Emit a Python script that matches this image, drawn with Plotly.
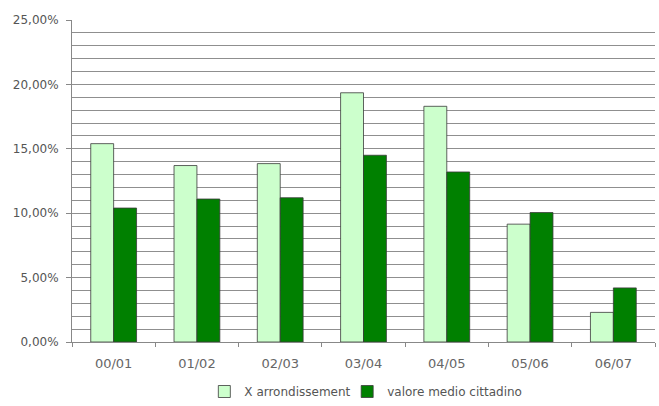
import plotly.graph_objects as go

# Anni scolastici
categories = ["00/01", "01/02", "02/03", "03/04", "04/05", "05/06", "06/07"]

# Percentuali per serie
x_arrondissement = [15.4, 13.7, 13.85, 19.35, 18.3, 9.15, 2.3]
valore_medio = [10.4, 11.1, 11.2, 14.5, 13.2, 10.05, 4.2]

series_names = ["X arrondissement", "valore medio cittadino"]
series_colors = ["#ccffcc", "#008000"]

y_ticks = [0, 5, 10, 15, 20, 25]
y_tick_labels = ["0,00%", "5,00%", "10,00%", "15,00%", "20,00%", "25,00%"]

font_family = "DejaVu Sans, Arial, sans-serif"

# each series gets its own legend box so the two entries can sit close together
legend_ids = ["legend", "legend2"]
legend_x = [0.227, 0.472]

fig = go.Figure()
for name, values, color, lid in zip(series_names, [x_arrondissement, valore_medio],
                                    series_colors, legend_ids):
    fig.add_trace(go.Bar(
        x=categories,
        y=values,
        name=name,
        legend=lid,
        marker=dict(color=color, line=dict(color="#3a3a3a", width=0.8)),
    ))

legend_style = dict(
    orientation="h",
    xanchor="left",
    yref="container",
    y=0.0,
    yanchor="bottom",
    font=dict(family=font_family, size=12, color="#555555"),
    itemwidth=30,
    bgcolor="rgba(0,0,0,0)",
)

fig.update_layout(
    width=659,
    height=406,
    margin=dict(l=72, r=4, t=20, b=64),
    paper_bgcolor="white",
    plot_bgcolor="white",
    barmode="group",
    bargap=0.45,
    bargroupgap=0,
    font=dict(family=font_family, size=11, color="#555555"),
    showlegend=True,
    legend=dict(legend_style, x=legend_x[0]),
    legend2=dict(legend_style, x=legend_x[1]),
)

fig.update_xaxes(
    type="category",
    automargin=False,
    showgrid=False,
    showline=True,
    linecolor="#888888",
    linewidth=1,
    ticks="outside",
    tickson="boundaries",
    ticklen=4,
    tickcolor="#888888",
    ticklabelstandoff=9,
    tickfont=dict(family=font_family, size=13, color="#666666"),
)

fig.update_yaxes(
    range=[0, 25],
    automargin=False,
    tickvals=y_ticks,
    ticktext=y_tick_labels,
    showgrid=True,
    gridcolor="#8f8f8f",
    gridwidth=1,
    minor=dict(dtick=1, showgrid=True, gridcolor="#8f8f8f", gridwidth=1),
    showline=True,
    linecolor="#888888",
    linewidth=1,
    ticks="outside",
    ticklen=5,
    tickcolor="#888888",
    ticklabelstandoff=5,
    tickfont=dict(family=font_family, size=12, color="#555555"),
    zeroline=False,
)

fig.write_html("out.html")
